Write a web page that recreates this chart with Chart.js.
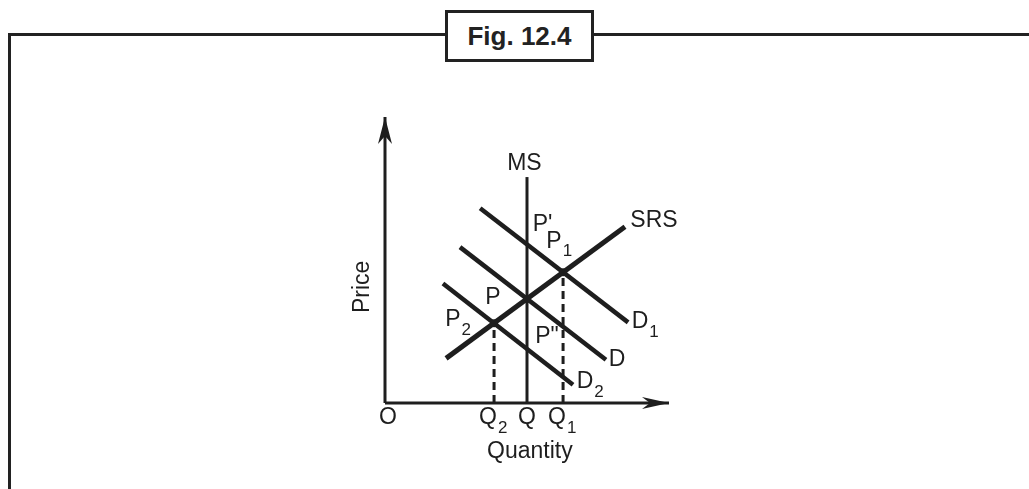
<!DOCTYPE html>
<html>
<head>
<meta charset="utf-8">
<title>Fig. 12.4</title>
<script src="https://cdn.jsdelivr.net/npm/chart.js@4.4.1/dist/chart.umd.min.js"></script>
<style>
  html, body { margin: 0; padding: 0; background: #fff; }
  #wrap { position: relative; width: 1029px; height: 489px; overflow: hidden; }
  #chart { position: absolute; left: 0; top: 0; }
  .frame-top { position: absolute; left: 8px; right: 0; top: 33px; height: 3px; background: #222; }
  .frame-left { position: absolute; left: 8px; top: 33px; bottom: 0; width: 3px; background: #222; }
  .fig-box {
    position: absolute; left: 445px; top: 10px; width: 143px; height: 46px;
    border: 3px solid #222; background: #fff;
    font: bold 26px "Liberation Sans Narrow", "Liberation Sans", Arial, sans-serif;
    color: #222; text-align: center; line-height: 46px;
  }
</style>
</head>
<body>
<div id="wrap">
  <div class="frame-top"></div>
  <div class="frame-left"></div>
  <div class="fig-box">Fig. 12.4</div>
  <canvas id="chart" width="1029" height="489"></canvas>
</div>
<script>
// Curves (quantity, price) in chart units, 0..100 on both axes
const msLine  = [[50, 0], [50, 79]];
const srsLine = [[21.5, 15.6], [84.5, 61.6]];
const dLine   = [[26.4, 54.5], [77.8, 15.1]];
const d1Line  = [[33.5, 68.1], [85.6, 28.2]];
const d2Line  = [[20.4, 41.8], [66.2, 6.4]];
const q2Drop  = [[38.4, 0], [38.4, 27.9]];
const q1Drop  = [[62.7, 0], [62.7, 45.7]];
const equilibria = [[50, 36.4], [62.7, 45.7], [38.4, 27.9]];

// Quantity axis tick labels
const xTickValues = [0, 38.4, 50, 62.7];
const xTickNames  = ['O', 'Q', 'Q', 'Q'];
const xTickSubs   = ['', '2', '', '1'];

// Curve / point labels: text, subscript, anchor in chart units
const labelText = ['MS', 'SRS', "P'", 'P', 'P', 'P', 'P"', 'D', 'D', 'D'];
const labelSub  = ['',   '',    '',   '1', '',  '2', '',   '1', '',  '2'];
const labelX    = [49.1, 94.7,  55.5, 59.5, 38.0, 23.9, 57.0, 89.8, 81.7, 70.4];
const labelY    = [83.7, 63.6,  62.2, 56.5, 36.7, 29.0, 23.1, 28.3, 15.0, 7.3];

const INK = '#1e1e1e';
const FONT = '"Liberation Sans", Arial, sans-serif';

const toPts = arr => arr.map(p => ({ x: p[0], y: p[1] }));

function lineSet(points, width, dash) {
  return {
    data: toPts(points),
    showLine: true,
    borderColor: INK,
    borderWidth: width,
    borderDash: dash || [],
    borderCapStyle: 'butt',
    pointRadius: 0,
    clip: false
  };
}

const axisPlugin = {
  id: 'axisArrows',
  afterDatasetsDraw(chart) {
    const { ctx, scales: { x, y } } = chart;
    const x0 = x.getPixelForValue(0), y0 = y.getPixelForValue(0);
    const yTop = y.getPixelForValue(100), xEnd = x.getPixelForValue(100);
    ctx.save();
    ctx.fillStyle = INK;
    // y arrow
    ctx.beginPath();
    ctx.moveTo(x0, yTop);
    ctx.lineTo(x0 + 7, yTop + 27);
    ctx.lineTo(x0, yTop + 19);
    ctx.lineTo(x0 - 7, yTop + 27);
    ctx.closePath();
    ctx.fill();
    // x arrow
    ctx.beginPath();
    ctx.moveTo(xEnd, y0);
    ctx.lineTo(xEnd - 27, y0 - 6);
    ctx.lineTo(xEnd - 19, y0);
    ctx.lineTo(xEnd - 27, y0 + 6);
    ctx.closePath();
    ctx.fill();
    ctx.restore();
  }
};

function drawLabel(ctx, text, sub, px, py) {
  ctx.font = '23px ' + FONT;
  ctx.textAlign = 'center';
  ctx.textBaseline = 'middle';
  ctx.fillText(text, px, py);
  if (sub) {
    const w = ctx.measureText(text).width;
    ctx.font = '17px ' + FONT;
    ctx.textAlign = 'left';
    ctx.fillText(sub, px + w / 2 + 1, py + 10);
  }
}

const labelPlugin = {
  id: 'curveLabels',
  afterDatasetsDraw(chart) {
    const { ctx, scales: { x, y } } = chart;
    ctx.save();
    ctx.fillStyle = INK;
    labelText.forEach((t, i) => {
      drawLabel(ctx, t, labelSub[i], x.getPixelForValue(labelX[i]), y.getPixelForValue(labelY[i]));
    });
    xTickValues.forEach((v, i) => {
      const nudge = i === 0 ? 3 : (xTickSubs[i] ? -6 : 0);
      drawLabel(ctx, xTickNames[i], xTickSubs[i], x.getPixelForValue(v) + nudge, y.getPixelForValue(0) + 15);
    });
    // axis titles
    ctx.font = '23px ' + FONT;
    ctx.textAlign = 'center';
    ctx.textBaseline = 'middle';
    ctx.fillText('Quantity', x.getPixelForValue(51), y.getPixelForValue(0) + 49);
    ctx.translate(x.getPixelForValue(0) - 22, y.getPixelForValue(40.6));
    ctx.rotate(-Math.PI / 2);
    ctx.fillText('Price', 0, 0);
    ctx.restore();
  }
};

new Chart(document.getElementById('chart'), {
  type: 'scatter',
  data: {
    datasets: [
      lineSet([[0, 0], [0, 100]], 3),
      lineSet([[0, 0], [100, 0]], 3),
      lineSet(q2Drop, 3, [8, 5]),
      lineSet(q1Drop, 3, [8, 5]),
      lineSet(msLine, 3),
      lineSet(srsLine, 5),
      lineSet(dLine, 4.5),
      lineSet(d1Line, 4.5),
      lineSet(d2Line, 4.5),
      {
        data: toPts(equilibria),
        pointRadius: 4,
        pointBackgroundColor: INK,
        pointBorderWidth: 0,
        clip: false
      }
    ]
  },
  options: {
    responsive: false,
    animation: false,
    devicePixelRatio: 1,
    layout: { padding: { left: 385, right: 360, top: 117, bottom: 86 } },
    plugins: { legend: { display: false }, tooltip: { enabled: false } },
    scales: {
      x: { type: 'linear', min: 0, max: 100, display: false },
      y: { type: 'linear', min: 0, max: 100, display: false }
    }
  },
  plugins: [axisPlugin, labelPlugin]
});
</script>
</body>
</html>
